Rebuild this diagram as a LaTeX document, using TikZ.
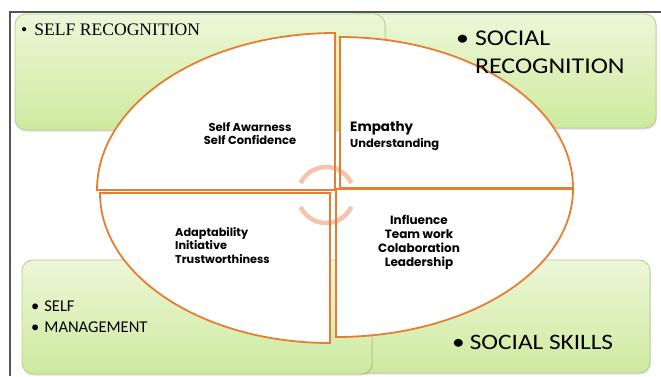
\documentclass[tikz,border=0pt]{standalone}
\usepackage{fontspec}
\setmainfont{Liberation Serif}
\newfontfamily\calibw[FakeStretch=1.15]{Carlito}
\newfontfamily\calibn{Carlito}
\newfontfamily\geo{Poppins}
\usetikzlibrary{shadows}
\definecolor{orng}{RGB}{229,126,48}
\definecolor{salm}{RGB}{245,196,172}
\definecolor{gtop}{RGB}{236,247,216}
\definecolor{gbot}{RGB}{206,234,158}
\definecolor{gedge}{RGB}{182,206,142}
\definecolor{framec}{RGB}{85,85,85}
\begin{document}
\begin{tikzpicture}[x=1pt,y=-1pt,
  gbox/.style={rounded corners=11pt, draw=gedge, line width=0.8pt, top color=gtop, bottom color=gbot,
    drop shadow={opacity=0.25, shadow xshift=0.8pt, shadow yshift=-1.5pt}},
  quad/.style={draw=orng, line width=1.8pt, line join=miter},
  cyc/.style={salm, line width=4.5pt},
  inner/.style={inner sep=0pt, font=\geo\bfseries},
  boxtxt/.style={inner sep=0pt}]
\useasboundingbox (0,0) rectangle (661,376);
\fill[white] (0,0) rectangle (661,376);
% frame
\draw[framec, line width=1.3pt] (10,376) -- (10,12) -- (661,12);
% green boxes
\path[gbox] (345,14) rectangle (656,128);
\path[gbox] (15,14) rectangle (385,130);
\path[gbox] (352,260) rectangle (650,373);
\path[gbox] (22,260) rectangle (372,374);
% quadrants (fill)
\path[fill=white] (335,190) -- (335,33) arc[start angle=270, end angle=180, x radius=238, y radius=157] -- cycle;
\path[fill=white] (340,188) -- (340,37) arc[start angle=270, end angle=360, x radius=233, y radius=151] -- cycle;
\path[fill=white] (330,193) -- (330,343) arc[start angle=90, end angle=180, x radius=230, y radius=150] -- cycle;
\path[fill=white] (336,189) -- (336,337) arc[start angle=90, end angle=0, x radius=237, y radius=148] -- cycle;
% circular arrows
\draw[cyc] (326,195) ++(205:28) arc[start angle=205, end angle=335, radius=28];
\draw[cyc] (326,195) ++(155:28) arc[start angle=155, end angle=25, radius=28];
% quadrant outlines
\draw[quad] (335,190) -- (335,33) arc[start angle=270, end angle=180, x radius=238, y radius=157] -- cycle;
\draw[quad] (340,188) -- (340,37) arc[start angle=270, end angle=360, x radius=233, y radius=151] -- cycle;
\draw[quad] (330,193) -- (330,343) arc[start angle=90, end angle=180, x radius=230, y radius=150] -- cycle;
\draw[quad] (336,189) -- (336,337) arc[start angle=90, end angle=0, x radius=237, y radius=148] -- cycle;
% inner texts
\node[inner, anchor=base] (sa) at (250,131)
  {\fontsize{11.5}{13}\selectfont\begin{tabular}[t]{@{}c@{}}Self Awarness\\Self Confidence\end{tabular}};
\node[inner, anchor=base west] (em) at (350,131)
  {\fontsize{11.5}{16}\selectfont\begin{tabular}[t]{@{}l@{}}{\fontsize{13.5}{14}\selectfont Empathy}\\Understanding\end{tabular}};
\node[inner, anchor=base west] (ad) at (175,236)
  {\fontsize{11.3}{13.5}\selectfont\begin{tabular}[t]{@{}l@{}}Adaptability\\Initiative\\Trustworthiness\end{tabular}};
\node[inner, anchor=base] (inf) at (419,224)
  {\fontsize{12}{14.3}\selectfont\begin{tabular}[t]{@{}c@{}}Influence\\Team work\\Colaboration\\Leadership\end{tabular}};
% box texts
\node[boxtxt, anchor=base west] (sr) at (21,35)
  {\fontsize{17.6}{20}\selectfont\textbullet\hspace{7pt}SELF RECOGNITION};
\node[boxtxt, anchor=base west] (socr) at (456,45)
  {\calibw\fontsize{22.5}{28}\selectfont\begin{tabular}[t]{@{}l@{\hspace{6pt}}l@{}}\textbullet&SOCIAL\\&RECOGNITION\end{tabular}};
\node[boxtxt, anchor=base west] (ss) at (452,349)
  {\calibw\fontsize{22}{26}\selectfont\textbullet\hspace{5pt}SOCIAL SKILLS};
\node[boxtxt, anchor=base west] (sm) at (31,311)
  {\calibn\fontsize{16.5}{21}\selectfont\begin{tabular}[t]{@{}l@{\hspace{5pt}}l@{}}\textbullet&SELF\\\textbullet&MANAGEMENT\end{tabular}};
\end{tikzpicture}
\end{document}
